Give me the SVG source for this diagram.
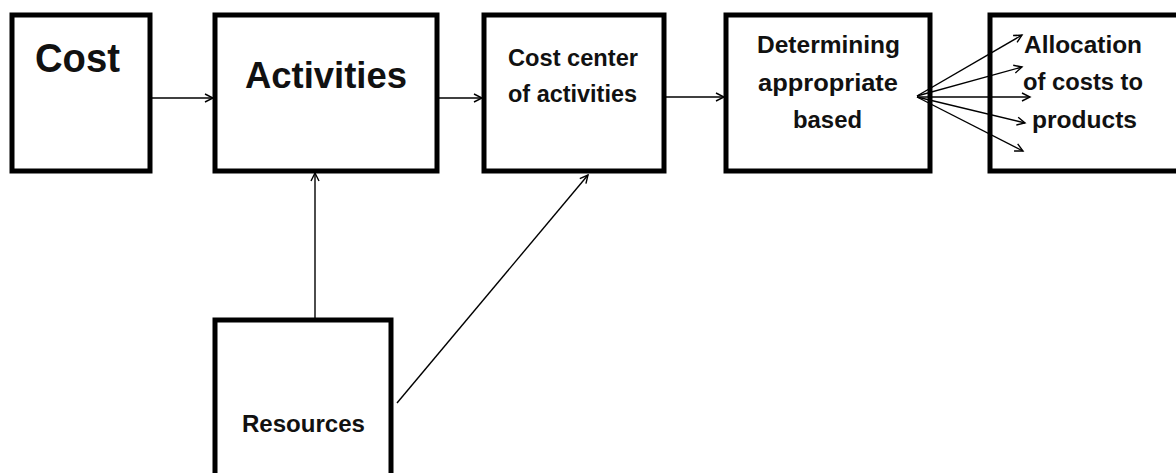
<svg xmlns="http://www.w3.org/2000/svg" width="1176" height="473" viewBox="0 0 1176 473">
<style>
.box{fill:#fff;stroke:#000;stroke-width:5}
.conn{fill:none;stroke:#000;stroke-width:1.4}
.t{font-family:"Liberation Sans",Arial,sans-serif;font-weight:bold;fill:#111}
.big{font-size:41px}
.mid{font-size:36px}
.sm{font-size:23px}
</style>
<defs>
<marker id="arr" markerUnits="userSpaceOnUse" markerWidth="12" markerHeight="12" refX="9" refY="5" orient="auto">
<path d="M1,1 L9,5 L1,9" fill="none" stroke="#000" stroke-width="1.4"/>
</marker>
</defs>
<rect width="1176" height="473" fill="#fff"/>
<g id="node-cost">
<rect class="box" x="12" y="15" width="138" height="156"/>
<text class="t big" x="35" y="72" textLength="85" lengthAdjust="spacingAndGlyphs">Cost</text>
</g>
<g id="node-activities">
<rect class="box" x="215" y="15" width="222" height="156"/>
<text class="t mid" x="245" y="88" textLength="162" lengthAdjust="spacingAndGlyphs">Activities</text>
</g>
<g id="node-costcenter">
<rect class="box" x="484" y="15" width="180" height="156"/>
<text class="t sm" x="508" y="66" textLength="130" lengthAdjust="spacingAndGlyphs">Cost center</text>
<text class="t sm" x="508" y="102" textLength="129" lengthAdjust="spacingAndGlyphs">of activities</text>
</g>
<g id="node-determining">
<rect class="box" x="726" y="15" width="204" height="156"/>
<text class="t sm" x="757" y="53" textLength="143" lengthAdjust="spacingAndGlyphs">Determining</text>
<text class="t sm" x="758" y="91" textLength="140" lengthAdjust="spacingAndGlyphs">appropriate</text>
<text class="t sm" x="793" y="128" textLength="69" lengthAdjust="spacingAndGlyphs">based</text>
</g>
<g id="node-allocation">
<rect class="box" x="990" y="15" width="200" height="156"/>
<text class="t sm" x="1024" y="53" textLength="118" lengthAdjust="spacingAndGlyphs">Allocation</text>
<text class="t sm" x="1023" y="90" textLength="120" lengthAdjust="spacingAndGlyphs">of costs to</text>
<text class="t sm" x="1032" y="128" textLength="105" lengthAdjust="spacingAndGlyphs">products</text>
</g>
<g id="node-resources">
<rect class="box" x="215" y="320" width="176" height="170"/>
<text class="t sm" x="242" y="432" textLength="123" lengthAdjust="spacingAndGlyphs">Resources</text>
</g>
<g id="connectors">
<line class="conn" x1="152" y1="98" x2="213" y2="98" marker-end="url(#arr)"/>
<line class="conn" x1="439" y1="98" x2="482" y2="98" marker-end="url(#arr)"/>
<line class="conn" x1="666" y1="97" x2="724" y2="97" marker-end="url(#arr)"/>
<line class="conn" x1="315" y1="318" x2="315" y2="173" marker-end="url(#arr)"/>
<line class="conn" x1="397" y1="403" x2="588" y2="175" marker-end="url(#arr)"/>
<line class="conn" x1="917" y1="96" x2="1022" y2="35" marker-end="url(#arr)"/>
<line class="conn" x1="917" y1="96" x2="1022" y2="67" marker-end="url(#arr)"/>
<line class="conn" x1="917" y1="97" x2="1030" y2="97" marker-end="url(#arr)"/>
<line class="conn" x1="917" y1="97" x2="1025" y2="123" marker-end="url(#arr)"/>
<line class="conn" x1="917" y1="97" x2="1023" y2="151" marker-end="url(#arr)"/>
</g>
</svg>
